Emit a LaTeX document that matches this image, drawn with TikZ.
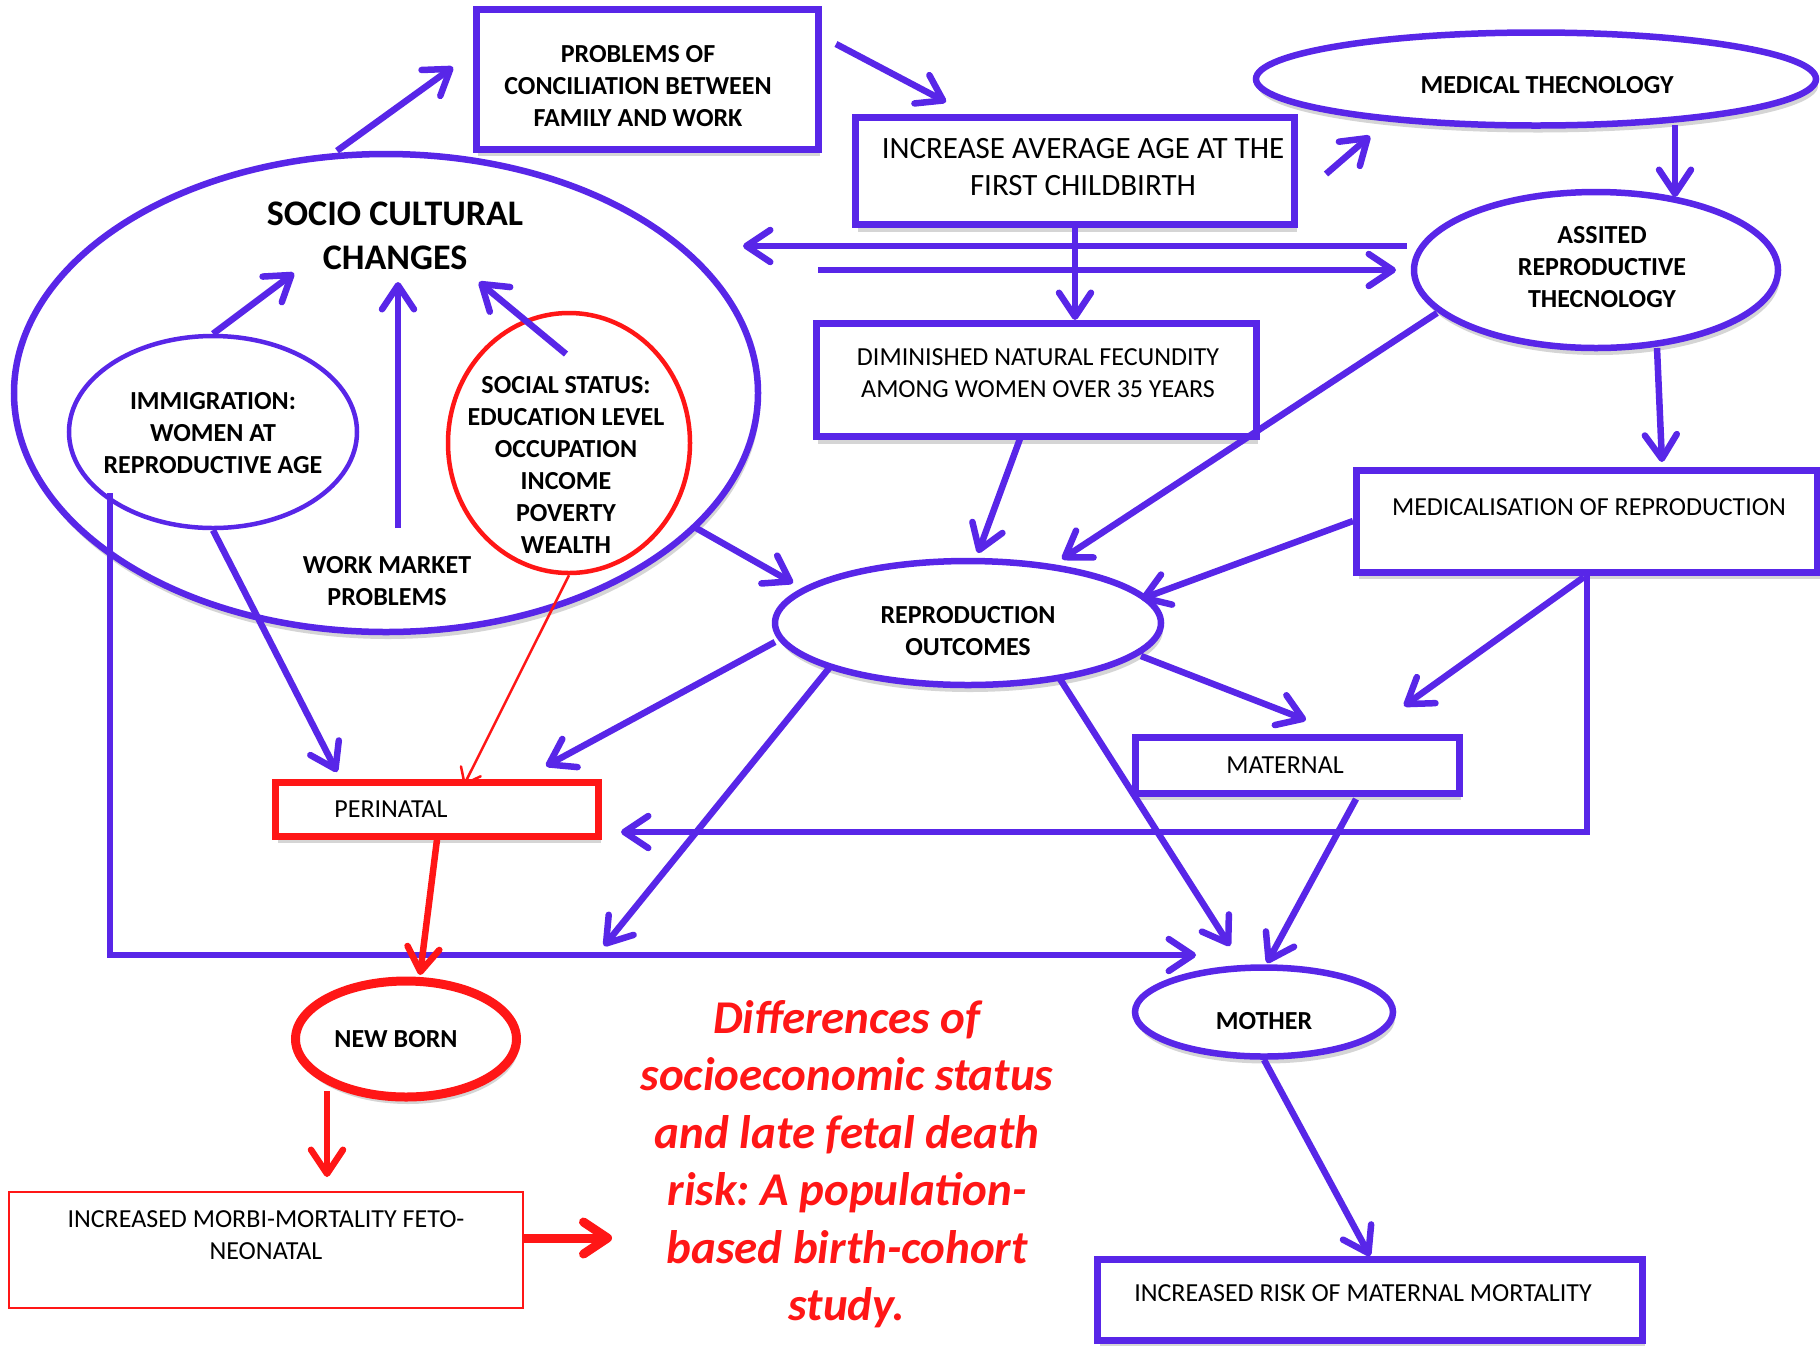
\documentclass[tikz,border=0pt]{standalone}
\usepackage{fontspec}
\setmainfont{Carlito}
\usetikzlibrary{arrows.meta,shadows,shapes.geometric}

\definecolor{ink}{RGB}{88,38,232}
\definecolor{alarm}{RGB}{255,22,22}

\begin{document}
\frenchspacing
\begin{tikzpicture}[x=1pt,y=-1pt,
  txt/.style={font=\fontsize{26}{32}\selectfont,align=center},
  txtb/.style={font=\fontsize{26}{32}\selectfont\bfseries,align=center},
  dropsh/.style={drop shadow={shadow xshift=2pt,shadow yshift=-7pt,opacity=.3,fill=black!55}},
  box/.style={rectangle,draw=ink,line width=7pt,fill=white,inner sep=4pt,txt},
  oval/.style={ellipse,draw=ink,line width=6.5pt,fill=white,inner sep=0pt,txtb},
  arr/.style={draw=ink,line width=6.5pt,-{Straight Barb[round,length=24pt,width=32pt]}},
  redarr/.style={draw=alarm,line width=6.5pt,-{Straight Barb[round,length=24pt,width=32pt]}},
  thinred/.style={draw=alarm,line width=2.5pt,-{Straight Barb[round,length=14pt,width=22pt]}}]
  \useasboundingbox (0,0) rectangle (1820,1345);

  \node[oval,dropsh,minimum width=744pt,minimum height=478pt] (soc) at (386,393) {};
  \node[txtb,font=\fontsize{36}{44}\selectfont\bfseries] (soctxt) at (395,236) {SOCIO CULTURAL\\CHANGES};
  \node[oval,line width=4.5pt,minimum width=288pt,minimum height=192pt] (imm) at (213,432) {};
  \node[txtb] (immtxt) at (213,433) {IMMIGRATION:\\WOMEN AT\\REPRODUCTIVE AGE};
  \node[oval,draw=alarm,line width=4.5pt,minimum width=242pt,minimum height=260pt] (ss) at (569,443) {};
  \node[txtb] (sstxt) at (566,465) {SOCIAL STATUS:\\EDUCATION LEVEL\\OCCUPATION\\INCOME\\POVERTY\\WEALTH};
  \node[txtb] (work) at (387,581) {WORK MARKET\\PROBLEMS};

  \node[box,dropsh,minimum width=342pt,minimum height=140pt,
    label={[txtb,xshift=-9pt,yshift=-7pt]center:{PROBLEMS OF\\CONCILIATION BETWEEN\\FAMILY AND WORK}}] (prob) at (647,79) {};
  \node[box,dropsh,minimum width=439pt,minimum height=107pt,
    label={[align=center,font=\fontsize{31}{37.5}\selectfont,xshift=8pt,yshift=4pt]center:{INCREASE AVERAGE AGE AT THE\\FIRST CHILDBIRTH}}] (inc) at (1075,171) {};
  \node[oval,dropsh,minimum width=560pt,minimum height=93pt,
    label={[txtb,xshift=11pt,yshift=-6pt]center:MEDICAL THECNOLOGY}] (med) at (1536,79) {};
  \node[oval,dropsh,minimum width=364pt,minimum height=156pt,
    label={[txtb,xshift=6pt,yshift=3pt]center:{ASSITED\\REPRODUCTIVE\\THECNOLOGY}}] (art) at (1596,270) {};
  \node[box,dropsh,minimum width=440pt,minimum height=113pt,
    label={[txt,xshift=2pt,yshift=7pt]center:{DIMINISHED NATURAL FECUNDITY\\AMONG WOMEN OVER 35 YEARS}}] (dim) at (1036,380) {};
  \node[box,dropsh,minimum width=461pt,minimum height=102pt,
    label={[txt,xshift=2pt,yshift=14pt]center:MEDICALISATION OF REPRODUCTION}] (medrep) at (1587,521) {};
  \node[oval,dropsh,minimum width=386pt,minimum height=124pt,
    label={[txtb,yshift=-8pt]center:{REPRODUCTION\\OUTCOMES}}] (repro) at (968,623) {};
  \node[box,dropsh,minimum width=324pt,minimum height=56pt,
    label={[txt,xshift=-12pt]center:MATERNAL}] (mat) at (1297,765) {};
  \node[box,dropsh,draw=alarm,minimum width=323pt,minimum height=54pt,
    label={[txt,xshift=-46pt]center:PERINATAL}] (peri) at (437,809) {};
  \node[oval,dropsh,draw=alarm,line width=9pt,minimum width=221pt,minimum height=116pt,
    label={[txtb,xshift=-10pt]center:NEW BORN}] (nb) at (406,1039) {};
  \node[oval,dropsh,minimum width=258pt,minimum height=89pt,
    label={[txtb,yshift=-9pt]center:MOTHER}] (moth) at (1264,1012) {};
  \node[box,dropsh,minimum width=545pt,minimum height=81pt,
    label={[txt,xshift=-7pt,yshift=7pt]center:INCREASED RISK OF MATERNAL MORTALITY}] (risk) at (1370,1300) {};
  \node[box,draw=alarm,line width=2pt,minimum width=514pt,minimum height=116pt,
    label={[txt,yshift=15pt]center:{INCREASED MORBI-MORTALITY FETO-\\NEONATAL}}] (morbi) at (266,1250) {};
  \node[font=\fontsize{47}{57.5}\selectfont\bfseries\itshape,text=alarm,align=center] (ttl) at (847,1164) {Differences of\\socioeconomic status\\and late fetal death\\risk: A population-\\based birth-cohort\\study.};

  \coordinate (hit) at (604,946);
  \coordinate (ttlin) at (612,1238);

  \draw[arr] ([xshift=-49pt]soc.north) -- ([xshift=-194pt,yshift=12pt]prob.center);
  \draw[arr] ([xshift=189pt,yshift=35pt]prob.center) -- ([xshift=-129pt,yshift=69pt]inc.center);
  \draw[arr] ([xshift=251pt,yshift=-3pt]inc.center) -- ([xshift=-166pt,yshift=-57pt]med.center);
  \draw[arr] ([xshift=139pt,yshift=-46pt]med.center) -- ([xshift=79pt,yshift=73pt]art.center);
  \draw[arr] ([xshift=-189pt,yshift=24pt]art.center) -- ([xshift=357pt,yshift=147pt]soc.center);
  \draw[arr] ([xshift=432pt,yshift=123pt]soc.center) -- ([xshift=-200pt]art.center);
  \draw[arr] (inc.south) -- (inc.south |- dim.north);
  \draw[arr] ([xshift=61pt,yshift=-78pt]art.center) -- ([xshift=75pt,yshift=59pt]medrep.center);
  \draw[arr] ([xshift=-15pt,yshift=-56pt]dim.center) -- ([xshift=10pt,yshift=70pt]repro.center);
  \draw[arr] ([xshift=-159pt,yshift=-43pt]art.center) -- ([xshift=94pt,yshift=64pt]repro.center);
  \draw[arr] (medrep.west) -- ([xshift=173pt,yshift=24pt]repro.center);
  \draw[arr] ([xshift=310pt,yshift=-135pt]soc.center) -- ([xshift=-175pt,yshift=40pt]repro.center);
  \draw[arr] ([xshift=-193pt,yshift=-19pt]repro.center) -- ([xshift=109pt,yshift=43pt]peri.center);
  \draw[arr] ([xshift=-138pt,yshift=-44pt]repro.center) -- (hit);
  \draw[arr] ([xshift=92pt,yshift=-56pt]repro.center) -- ([xshift=-34pt,yshift=66pt]moth.center);
  \draw[arr] ([xshift=173pt,yshift=-33pt]repro.center) -- ([xshift=9pt,yshift=45pt]mat.center);
  \draw[arr] ([xshift=-3pt,yshift=-56pt]medrep.center) -- ([xshift=107pt,yshift=59pt]mat.center);
  \draw[arr] (medrep.south) |- ([xshift=184pt,yshift=-23pt]peri.center);
  \draw[arr] ([xshift=59pt,yshift=-34pt]mat.center) -- ([xshift=3pt,yshift=49pt]moth.center);
  \draw[arr] (imm.south) -- ([xshift=-100pt,yshift=37pt]peri.center);
  \draw[arr] ([xshift=-103pt,yshift=-61pt]imm.center) |- ([xshift=-68pt,yshift=57pt]moth.center);
  \draw[arr] (moth.south) -- (risk.north);
  \draw[arr] (imm.north) -- ([xshift=-101pt,yshift=-37pt]soctxt.center);
  \draw[arr] ([xshift=11pt,yshift=53pt]work.center) -- ([xshift=3pt,yshift=-46pt]soctxt.center);
  \draw[arr] ([xshift=-3pt,yshift=89pt]ss.center) -- ([xshift=84pt,yshift=-46pt]soctxt.center);

  \draw[thinred] (ss.south) -- ([xshift=27pt,yshift=24pt]peri.center);
  \draw[redarr] (peri.south) -- ([xshift=14pt,yshift=64pt]nb.center);
  \draw[redarr] ([xshift=-79pt,yshift=-52pt]nb.center) -- ([xshift=61pt,yshift=14pt]morbi.north);
  \draw[redarr,line width=9pt] ([yshift=12pt]morbi.east) -- (ttlin);
\end{tikzpicture}
\end{document}
